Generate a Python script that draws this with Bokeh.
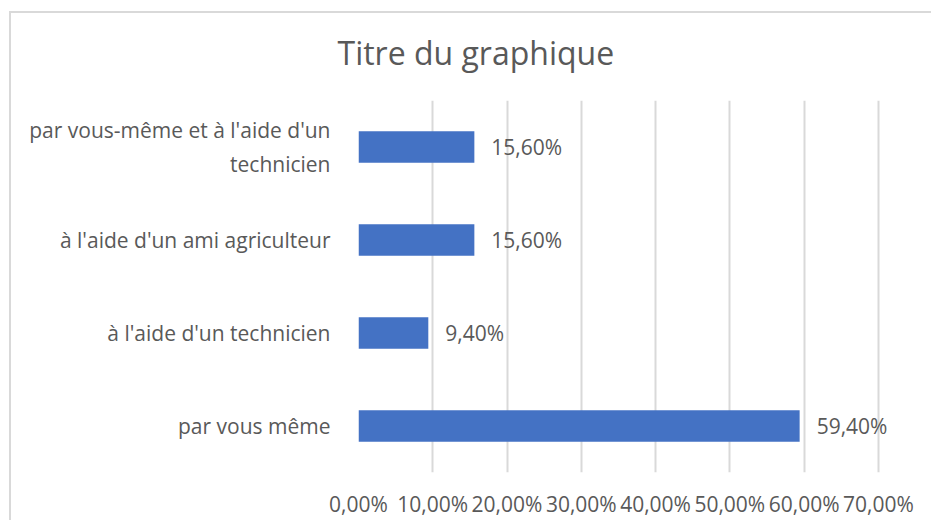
from bokeh.plotting import figure
from bokeh.models import FactorRange, Range1d, FixedTicker, ColumnDataSource
from bokeh.embed import file_html
from bokeh.resources import INLINE
from bokeh.core.properties import value

# ---- data ----
categories = [
    "par vous même",
    "à l'aide d'un technicien",
    "à l'aide d'un ami agriculteur",
    "par vous-même et à l'aide d'un\ntechnicien",
]
values = [0.594, 0.094, 0.156, 0.156]
value_labels = ["59,40%", "9,40%", "15,60%", "15,60%"]
x_ticks = [0.0, 0.1, 0.2, 0.3, 0.4, 0.5, 0.6, 0.7]
x_tick_labels = ["0,00%", "10,00%", "20,00%", "30,00%", "40,00%", "50,00%", "60,00%", "70,00%"]
title_text = "Titre du graphique"

FONT = "Open Sans"
GREY = "#595959"
EDGE = "#d9d9d9"

src = ColumnDataSource(dict(cat=categories, val=values, lab=value_labels))

p = figure(
    width=931, height=520,
    y_range=FactorRange(factors=categories, range_padding=0),
    x_range=Range1d(0, 0.75),
    output_backend="svg", toolbar_location=None,
    min_border_left=358, min_border_right=16, min_border_top=100, min_border_bottom=40,
    title=title_text,
)
# chart-area border (top and left edges) painted as the element's background
p.border_fill_color = None
p.styles = {
    "background": (
        f"linear-gradient({EDGE},{EDGE}) 9px 11px / 100% 2px no-repeat, "
        f"linear-gradient({EDGE},{EDGE}) 9px 11px / 2px 100% no-repeat, white"
    )
}

p.title.text_font = FONT
p.title.text_font_size = "32px"
p.title.text_font_style = "normal"
p.title.text_color = GREY
p.title.align = "left"
p.title.vertical_align = "top"
p.title.offset = -21
p.title.standoff = 50

p.outline_line_color = None
p.background_fill_color = "white"

p.hbar(y="cat", right="val", left=0, height=0.34, source=src,
       fill_color="#4472C4", line_color=None)

p.text(x="val", y="cat", text="lab", source=src, x_offset=17,
       text_align="left", text_baseline="middle",
       text_font=value(FONT), text_font_size="21px", text_color=GREY)

# x axis
p.xaxis.ticker = FixedTicker(ticks=x_ticks)
p.xaxis.major_label_overrides = {t: l for t, l in zip(x_ticks, x_tick_labels)}
p.xaxis.axis_line_color = None
p.xaxis.major_tick_line_color = None
p.xaxis.minor_tick_line_color = None
p.xaxis.major_label_text_font = FONT
p.xaxis.major_label_text_font_size = "21px"
p.xaxis.major_label_text_color = GREY
p.xaxis.major_label_standoff = 11

# y axis
p.yaxis.axis_line_color = None
p.yaxis.major_tick_line_color = None
p.yaxis.minor_tick_line_color = None
p.yaxis.major_label_text_font = FONT
p.yaxis.major_label_text_font_size = "21px"
p.yaxis.major_label_text_color = GREY
p.yaxis.major_label_standoff = 22

p.xgrid.ticker = FixedTicker(ticks=x_ticks)
p.xgrid.grid_line_color = EDGE
p.xgrid.grid_line_width = 2
p.ygrid.grid_line_color = None

open("out.html", "w").write(file_html(p, INLINE))
